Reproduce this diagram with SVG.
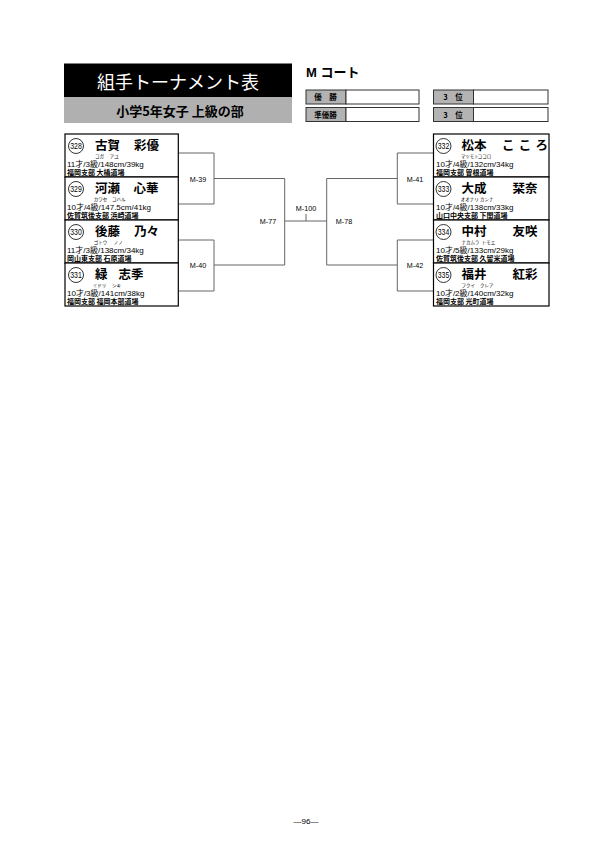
<svg xmlns="http://www.w3.org/2000/svg" width="612" height="859" viewBox="0 0 612 859">
<style>
.box{fill:#fff;stroke:#000;stroke-width:1.2}
.cir{fill:#fff;stroke:#000;stroke-width:0.8}
.num{font-family:"Liberation Sans",sans-serif;font-size:9px;text-anchor:middle}
.nm{font-family:"Noto Sans CJK JP",sans-serif;font-size:12.5px;font-weight:700}
.fu{font-family:"Noto Sans CJK JP",sans-serif;font-size:4.5px}
.l3{font-family:"Liberation Sans","Noto Sans CJK JP",sans-serif;font-size:8px}
.l4{font-family:"Noto Sans CJK JP",sans-serif;font-size:7px;font-weight:700}
.br{fill:none;stroke:#666;stroke-width:1}
.ml{font-family:"Liberation Sans",sans-serif;font-size:7.2px;text-anchor:middle}
.lab{fill:#b3b3b3;stroke:#333;stroke-width:1}
.wb{fill:#fff;stroke:#333;stroke-width:1}
.lt{font-family:"Noto Sans CJK JP",sans-serif;font-size:7.5px;font-weight:700;text-anchor:middle}
</style>

<g id="header">
  <rect x="64" y="63.5" width="228" height="33.5" fill="#000"/>
  <text x="178" y="89" fill="#fff" font-family="Noto Sans CJK JP, sans-serif" font-size="18" text-anchor="middle">組手トーナメント表</text>
  <rect x="64" y="97" width="228" height="26" fill="#b0b0b0"/>
  <text x="180" y="115.5" font-family="Noto Sans CJK JP, sans-serif" font-size="13" font-weight="700" text-anchor="middle">小学5年女子 上級の部</text>
  <text x="306" y="77" font-family="Liberation Sans, Noto Sans CJK JP, sans-serif" font-size="13" font-weight="700">M コート</text>
</g>

<g id="results">
  <rect class="lab" x="306" y="90" width="40" height="14"/>
  <rect class="wb" x="346" y="90" width="73" height="14"/>
  <text class="lt" x="325.5" y="100">優　勝</text>
  <rect class="lab" x="306" y="107.5" width="40" height="14"/>
  <rect class="wb" x="346" y="107.5" width="73" height="14"/>
  <text class="lt" x="325.5" y="117.5">準優勝</text>
  <rect class="lab" x="433.5" y="90" width="40" height="14"/>
  <rect class="wb" x="473.5" y="90" width="74.5" height="14"/>
  <text class="lt" x="453" y="100">3　位</text>
  <rect class="lab" x="433.5" y="107.5" width="40" height="14"/>
  <rect class="wb" x="473.5" y="107.5" width="74.5" height="14"/>
  <text class="lt" x="453" y="117.5">3　位</text>
</g>

<g id="connectors">
  <path class="br" d="M178.3,153 H214 V204 H178.3 M214,178.5 H284.7"/>
  <path class="br" d="M178.3,240 H214 V291 H178.3 M214,265 H284.7"/>
  <path class="br" d="M284.7,178.5 V265 M284.7,221 H326.7 M306,214 V221"/>
  <path class="br" d="M326.7,178.5 V265 M326.7,178.5 H397.3 M326.7,265 H397.3"/>
  <path class="br" d="M433.5,153 H397.3 V204 H433.5"/>
  <path class="br" d="M433.5,240 H397.3 V291 H433.5"/>
</g>

<g id="matches">
  <text id="m39" class="ml" x="198" y="181.5">M-39</text>
  <text id="m40" class="ml" x="198" y="268">M-40</text>
  <text id="m77" class="ml" x="268" y="223.5">M-77</text>
  <text id="m100" class="ml" x="306" y="210.5">M-100</text>
  <text id="m78" class="ml" x="344" y="223.5">M-78</text>
  <text id="m41" class="ml" x="415" y="181.5">M-41</text>
  <text id="m42" class="ml" x="415" y="268">M-42</text>
</g>

<g id="p328">
  <rect class="box" x="65" y="134" width="113.3" height="43"/>
  <circle class="cir" cx="76" cy="146" r="7.5"/>
  <text class="num" x="76" y="149.2" textLength="11.5" lengthAdjust="spacingAndGlyphs">328</text>
  <text class="nm" x="95" y="150.2">古賀</text>
  <text class="nm" x="134" y="150.2">彩優</text>
  <text class="fu" x="95" y="157.8">コガ</text>
  <text class="fu" x="109.7" y="157.8">アユ</text>
  <text class="l3" x="67" y="166.5">11才/3級/148cm/39kg</text>
  <text class="l4" x="67" y="175">福岡支部 大橋道場</text>
</g>

<g id="p329">
  <rect class="box" x="65" y="177" width="113.3" height="43"/>
  <circle class="cir" cx="76" cy="189" r="7.5"/>
  <text class="num" x="76" y="192.2" textLength="11.5" lengthAdjust="spacingAndGlyphs">329</text>
  <text class="nm" x="95" y="193.2">河瀬</text>
  <text class="nm" x="133.5" y="193.2">心華</text>
  <text class="fu" x="93.7" y="200.8">カワセ</text>
  <text class="fu" x="112" y="200.8">コハル</text>
  <text class="l3" x="67" y="209.5">10才/4級/147.5cm/41kg</text>
  <text class="l4" x="67" y="218">佐賀筑後支部 浜崎道場</text>
</g>

<g id="p330">
  <rect class="box" x="65" y="220" width="113.3" height="43"/>
  <circle class="cir" cx="76" cy="232" r="7.5"/>
  <text class="num" x="76" y="235.2" textLength="11.5" lengthAdjust="spacingAndGlyphs">330</text>
  <text class="nm" x="95" y="236.2">後藤</text>
  <text class="nm" x="134" y="236.2">乃々</text>
  <text class="fu" x="93.7" y="243.8">ゴトウ</text>
  <text class="fu" x="113.7" y="243.8">ノノ</text>
  <text class="l3" x="67" y="252.5">11才/3級/138cm/34kg</text>
  <text class="l4" x="67" y="261">岡山東支部 石原道場</text>
</g>

<g id="p331">
  <rect class="box" x="65" y="263" width="113.3" height="43"/>
  <circle class="cir" cx="76" cy="275" r="7.5"/>
  <text class="num" x="76" y="278.2" textLength="11.5" lengthAdjust="spacingAndGlyphs">331</text>
  <text class="nm" x="95" y="279.2">緑</text>
  <text class="nm" x="118.5" y="279.2">志季</text>
  <text class="fu" x="92.7" y="286.8">ミドリ</text>
  <text class="fu" x="112" y="286.8">シキ</text>
  <text class="l3" x="67" y="295.5">10才/3級/141cm/38kg</text>
  <text class="l4" x="67" y="304">福岡支部 福岡本部道場</text>
</g>

<g id="p332">
  <rect class="box" x="433.5" y="134" width="115.5" height="43"/>
  <circle class="cir" cx="443.5" cy="146" r="7.5"/>
  <text class="num" x="443.5" y="149.2" textLength="11.5" lengthAdjust="spacingAndGlyphs">332</text>
  <text class="nm" x="461.5" y="150.2">松本</text>
  <text class="nm" x="502" y="150.2" textLength="46" lengthAdjust="spacing">こころ</text>
  <text class="fu" x="460.7" y="157.8">マツモト</text>
  <text class="fu" x="477.7" y="157.8">ココロ</text>
  <text class="l3" x="436" y="166.5">10才/4級/132cm/34kg</text>
  <text class="l4" x="436" y="175">福岡支部 曽根道場</text>
</g>

<g id="p333">
  <rect class="box" x="433.5" y="177" width="115.5" height="43"/>
  <circle class="cir" cx="443.5" cy="189" r="7.5"/>
  <text class="num" x="443.5" y="192.2" textLength="11.5" lengthAdjust="spacingAndGlyphs">333</text>
  <text class="nm" x="461.5" y="193.2">大成</text>
  <text class="nm" x="512.5" y="193.2">栞奈</text>
  <text class="fu" x="460.7" y="200.8">オオナリ</text>
  <text class="fu" x="480" y="200.8">カンナ</text>
  <text class="l3" x="436" y="209.5">10才/4級/138cm/33kg</text>
  <text class="l4" x="436" y="218">山口中央支部 下関道場</text>
</g>

<g id="p334">
  <rect class="box" x="433.5" y="220" width="115.5" height="43"/>
  <circle class="cir" cx="443.5" cy="232" r="7.5"/>
  <text class="num" x="443.5" y="235.2" textLength="11.5" lengthAdjust="spacingAndGlyphs">334</text>
  <text class="nm" x="461.5" y="236.2">中村</text>
  <text class="nm" x="512.5" y="236.2">友咲</text>
  <text class="fu" x="461.5" y="243.8">ナカムラ</text>
  <text class="fu" x="481.7" y="243.8">トモエ</text>
  <text class="l3" x="436" y="252.5">10才/5級/133cm/29kg</text>
  <text class="l4" x="436" y="261">佐賀筑後支部 久留米道場</text>
</g>

<g id="p335">
  <rect class="box" x="433.5" y="263" width="115.5" height="43"/>
  <circle class="cir" cx="443.5" cy="275" r="7.5"/>
  <text class="num" x="443.5" y="278.2" textLength="11.5" lengthAdjust="spacingAndGlyphs">335</text>
  <text class="nm" x="461.5" y="279.2">福井</text>
  <text class="nm" x="512.5" y="279.2">紅彩</text>
  <text class="fu" x="461.5" y="286.8">フクイ</text>
  <text class="fu" x="480" y="286.8">クレア</text>
  <text class="l3" x="436" y="295.5">10才/2級/140cm/32kg</text>
  <text class="l4" x="436" y="304">福岡支部 光町道場</text>
</g>

<g id="footer">
  <text x="306" y="824" font-family="Liberation Sans, sans-serif" font-size="8" text-anchor="middle">—96—</text>
</g>
</svg>
